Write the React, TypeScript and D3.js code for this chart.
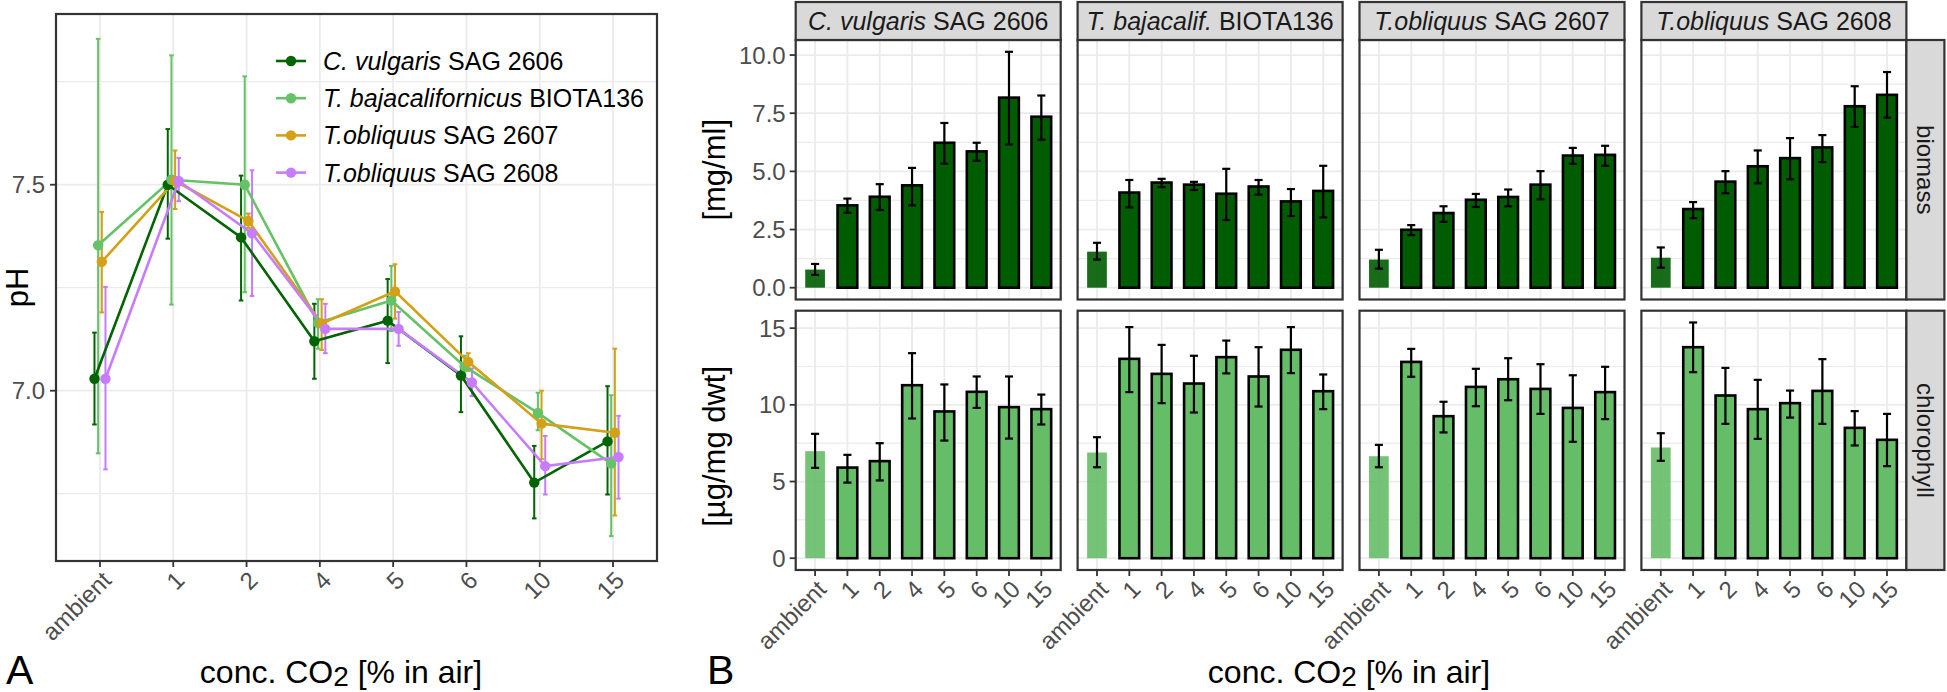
import React from 'react';
import * as d3 from 'd3';

// ---------------- DATA ----------------
const concLabels = ['ambient', '1', '2', '4', '5', '6', '10', '15'];

const strainSpecies = ['C. vulgaris', 'T. bajacalifornicus', 'T.obliquus', 'T.obliquus'];
const strainCodes = ['SAG 2606', 'BIOTA136', 'SAG 2607', 'SAG 2608'];
const stripSpecies = ['C. vulgaris', 'T. bajacalif.', 'T.obliquus', 'T.obliquus'];
const seriesColors = ['#006400', '#66C266', '#D4A017', '#C77CFF'];

// Panel A: pH (mean, lower, upper)
const phCvul = [7.029, 7.5, 7.372, 7.12, 7.17, 7.037, 6.777, 6.877];
const phCvulLo = [6.918, 7.369, 7.219, 7.029, 7.067, 6.948, 6.69, 6.748];
const phCvulHi = [7.141, 7.635, 7.522, 7.211, 7.271, 7.132, 6.866, 7.011];

const phTbaj = [7.353, 7.512, 7.5, 7.165, 7.219, 7.059, 6.946, 6.823];
const phTbajLo = [6.848, 7.209, 7.239, 7.102, 7.145, 7.03, 6.904, 6.647];
const phTbajHi = [7.854, 7.814, 7.763, 7.222, 7.303, 7.085, 6.995, 6.989];

const phT2607 = [7.313, 7.509, 7.412, 7.163, 7.241, 7.07, 6.92, 6.898];
const phT2607Lo = [7.19, 7.441, 7.395, 7.099, 7.175, 7.048, 6.834, 6.697];
const phT2607Hi = [7.434, 7.583, 7.43, 7.222, 7.307, 7.091, 7.0, 7.102];

const phT2608 = [7.029, 7.509, 7.382, 7.15, 7.15, 7.02, 6.817, 6.839];
const phT2608Lo = [6.809, 7.46, 7.23, 7.091, 7.109, 6.987, 6.748, 6.738];
const phT2608Hi = [7.252, 7.565, 7.535, 7.211, 7.191, 7.054, 6.89, 6.939];

// Panel B: biomass [mg/ml]
const bioCvul = [0.78, 3.54, 3.91, 4.4, 6.23, 5.86, 8.17, 7.35];
const bioCvulLo = [0.55, 3.22, 3.34, 3.54, 5.33, 5.46, 6.16, 6.36];
const bioCvulHi = [1.02, 3.83, 4.45, 5.15, 7.08, 6.23, 10.14, 8.26];
const bioTbaj = [1.55, 4.09, 4.52, 4.43, 4.04, 4.35, 3.71, 4.16];
const bioTbajLo = [1.21, 3.45, 4.32, 4.2, 2.91, 4.0, 3.08, 3.02];
const bioTbajHi = [1.93, 4.63, 4.68, 4.55, 5.11, 4.63, 4.24, 5.24];
const bioT2607 = [1.21, 2.49, 3.21, 3.78, 3.9, 4.43, 5.68, 5.71];
const bioT2607Lo = [0.82, 2.26, 2.83, 3.47, 3.5, 3.8, 5.32, 5.24];
const bioT2607Hi = [1.63, 2.69, 3.5, 4.03, 4.22, 5.01, 6.01, 6.1];
const bioT2608 = [1.29, 3.38, 4.56, 5.22, 5.57, 6.03, 7.8, 8.29];
const bioT2608Lo = [0.86, 2.99, 4.06, 4.49, 4.66, 5.4, 6.91, 7.31];
const bioT2608Hi = [1.73, 3.68, 5.01, 5.9, 6.43, 6.56, 8.66, 9.27];

// Panel B: chlorophyll [µg/mg dwt]
const chlCvul = [6.98, 5.91, 6.33, 11.28, 9.57, 10.85, 9.85, 9.72];
const chlCvulLo = [5.89, 4.93, 5.07, 9.11, 7.67, 9.8, 7.8, 8.72];
const chlCvulHi = [8.11, 6.74, 7.5, 13.37, 11.33, 11.85, 11.85, 10.67];
const chlTbaj = [6.89, 13.0, 12.02, 11.39, 13.11, 11.85, 13.59, 10.89];
const chlTbajLo = [5.93, 10.83, 10.11, 9.5, 12.05, 9.89, 12.07, 9.72];
const chlTbajHi = [7.89, 15.07, 13.91, 13.2, 14.19, 13.76, 15.07, 11.98];
const chlT2607 = [6.65, 12.8, 9.26, 11.17, 11.67, 11.04, 9.8, 10.83];
const chlT2607Lo = [5.93, 11.83, 8.2, 9.91, 10.3, 9.41, 7.59, 9.07];
const chlT2607Hi = [7.39, 13.65, 10.2, 12.35, 13.04, 12.65, 11.93, 12.48];
const chlT2608 = [7.22, 13.76, 10.61, 9.72, 10.11, 10.91, 8.5, 7.72];
const chlT2608Lo = [6.35, 12.13, 8.76, 7.78, 9.17, 8.76, 7.35, 6.0];
const chlT2608Hi = [8.15, 15.37, 12.41, 11.63, 10.93, 12.98, 9.59, 9.41];

const phTicks = [7.0, 7.5];
const phMinor = [6.75, 7.25, 7.75];
const bioTicks = [0, 2.5, 5, 7.5, 10];
const bioMinor = [1.25, 3.75, 6.25, 8.75];
const chlTicks = [0, 5, 10, 15];
const chlMinor = [2.5, 7.5, 12.5];
const rowLabels = ['biomass', 'chlorophyll'];

// ---------------- LAYOUT / STYLE ----------------
const FONT = '"Liberation Sans", Arial, Helvetica, sans-serif';
const GRID = '#EBEBEB';
const BORDER = '#333333';
const TICKTXT = '#4D4D4D';
const BAR_DARK = '#005C00';
const BAR_LIGHT = '#66BD68';
const TICK_FS = 24;

const A = { l: 56, r: 657, t: 14, b: 561 };
const B = { l: 795.7, colStep: 281.9, colW: 265, rows: [{ t: 40, b: 299.5 }, { t: 310.7, b: 570 }], stripTop: 2, stripRightW: 38 };

const expand = (lo: number, hi: number) => {
  const d = hi - lo;
  return [lo - d * 0.05, hi + d * 0.05];
};

const phSeries = [
  { m: phCvul, lo: phCvulLo, hi: phCvulHi },
  { m: phTbaj, lo: phTbajLo, hi: phTbajHi },
  { m: phT2607, lo: phT2607Lo, hi: phT2607Hi },
  { m: phT2608, lo: phT2608Lo, hi: phT2608Hi },
];
const bioSeries = [
  { m: bioCvul, lo: bioCvulLo, hi: bioCvulHi },
  { m: bioTbaj, lo: bioTbajLo, hi: bioTbajHi },
  { m: bioT2607, lo: bioT2607Lo, hi: bioT2607Hi },
  { m: bioT2608, lo: bioT2608Lo, hi: bioT2608Hi },
];
const chlSeries = [
  { m: chlCvul, lo: chlCvulLo, hi: chlCvulHi },
  { m: chlTbaj, lo: chlTbajLo, hi: chlTbajHi },
  { m: chlT2607, lo: chlT2607Lo, hi: chlT2607Hi },
  { m: chlT2608, lo: chlT2608Lo, hi: chlT2608Hi },
];

function PanelA() {
  const x = d3.scalePoint<string>().domain(concLabels).range([A.l, A.r]).padding(0.6);
  const step = x.step();
  const allLo = d3.min(phSeries.flatMap((s) => s.lo)) as number;
  const allHi = d3.max(phSeries.flatMap((s) => s.hi)) as number;
  const y = d3.scaleLinear().domain(expand(allLo, allHi)).range([A.b, A.t]);
  const dodge = (i: number) => (i - 1.5) * 0.05 * step;
  const cap = 2.3;

  return (
    <g>
      <rect x={A.l} y={A.t} width={A.r - A.l} height={A.b - A.t} fill="#fff" />
      {phMinor.map((v) => (
        <line key={'mn' + v} x1={A.l} x2={A.r} y1={y(v)} y2={y(v)} stroke={GRID} strokeWidth={1.2} />
      ))}
      {phTicks.map((v) => (
        <line key={'mj' + v} x1={A.l} x2={A.r} y1={y(v)} y2={y(v)} stroke={GRID} strokeWidth={1.8} />
      ))}
      {concLabels.map((c) => (
        <line key={'vx' + c} x1={x(c)} x2={x(c)} y1={A.t} y2={A.b} stroke={GRID} strokeWidth={1.8} />
      ))}
      {phSeries.map((s, i) => (
        <g key={'eb' + i} stroke={seriesColors[i]} strokeWidth={2}>
          {concLabels.map((c, j) => {
            const cx = (x(c) as number) + dodge(i);
            return (
              <g key={j}>
                <line x1={cx} x2={cx} y1={y(s.lo[j])} y2={y(s.hi[j])} />
                <line x1={cx - cap} x2={cx + cap} y1={y(s.lo[j])} y2={y(s.lo[j])} />
                <line x1={cx - cap} x2={cx + cap} y1={y(s.hi[j])} y2={y(s.hi[j])} />
              </g>
            );
          })}
        </g>
      ))}
      {phSeries.map((s, i) => {
        const line = d3
          .line<number>()
          .x((_, j) => (x(concLabels[j]) as number) + dodge(i))
          .y((v) => y(v));
        return <path key={'ln' + i} d={line(s.m) || ''} fill="none" stroke={seriesColors[i]} strokeWidth={2.6} />;
      })}
      {phSeries.map((s, i) => (
        <g key={'pt' + i} fill={seriesColors[i]}>
          {s.m.map((v, j) => (
            <circle key={j} cx={(x(concLabels[j]) as number) + dodge(i)} cy={y(v)} r={5.2} />
          ))}
        </g>
      ))}
      <rect x={A.l} y={A.t} width={A.r - A.l} height={A.b - A.t} fill="none" stroke={BORDER} strokeWidth={2.2} />
      {/* y axis */}
      {phTicks.map((v) => (
        <g key={'yt' + v}>
          <line x1={A.l - 6} x2={A.l} y1={y(v)} y2={y(v)} stroke={BORDER} strokeWidth={1.8} />
          <text x={A.l - 11} y={y(v)} dy="0.36em" textAnchor="end" fontSize={TICK_FS} fill={TICKTXT}>
            {v.toFixed(1)}
          </text>
        </g>
      ))}
      {/* x axis */}
      {concLabels.map((c) => (
        <g key={'xt' + c}>
          <line x1={x(c)} x2={x(c)} y1={A.b} y2={A.b + 6} stroke={BORDER} strokeWidth={1.8} />
          <text
            transform={`translate(${x(c)},${A.b + 8}) rotate(-45)`}
            dy="0.75em"
            textAnchor="end"
            fontSize={TICK_FS}
            fill={TICKTXT}
          >
            {c}
          </text>
        </g>
      ))}
      <text transform={`translate(28,${(A.t + A.b) / 2}) rotate(-90)`} textAnchor="middle" fontSize={31} fill="#000">
        pH
      </text>
      {/* legend */}
      {strainSpecies.map((sp, i) => {
        const ly = 61 + i * 37.2;
        return (
          <g key={'lg' + i}>
            <line x1={276} x2={306} y1={ly} y2={ly} stroke={seriesColors[i]} strokeWidth={2.6} />
            <circle cx={291} cy={ly} r={5.2} fill={seriesColors[i]} />
            <text x={323} y={ly} dy="0.36em" fontSize={25} fill="#000">
              <tspan fontStyle="italic">{sp}</tspan>
              <tspan>{' ' + strainCodes[i]}</tspan>
            </text>
          </g>
        );
      })}
    </g>
  );
}

function PanelB() {
  const colL = (k: number) => B.l + k * B.colStep;
  const rowsData = [bioSeries, chlSeries];
  const rowTicks = [bioTicks, chlTicks];
  const rowMinor = [bioMinor, chlMinor];
  const rowFill = [BAR_DARK, BAR_LIGHT];
  const rowFmt = [(v: number) => v.toFixed(1), (v: number) => String(v)];

  return (
    <g>
      {rowsData.map((series, r) => {
        const row = B.rows[r];
        const hiMax = d3.max(series.flatMap((s) => s.hi)) as number;
        const y = d3.scaleLinear().domain(expand(0, hiMax)).range([row.b, row.t]);
        return (
          <g key={'row' + r}>
            {series.map((s, k) => {
              const l = colL(k);
              const xp = d3.scalePoint<string>().domain(concLabels).range([l, l + B.colW]).padding(0.6);
              const step = xp.step();
              const bw = 0.61 * step;
              const cap = 0.125 * step;
              return (
                <g key={'p' + k}>
                  <rect x={l} y={row.t} width={B.colW} height={row.b - row.t} fill="#fff" />
                  {rowMinor[r].map((v) => (
                    <line key={'mn' + v} x1={l} x2={l + B.colW} y1={y(v)} y2={y(v)} stroke={GRID} strokeWidth={1.2} />
                  ))}
                  {rowTicks[r].map((v) => (
                    <line key={'mj' + v} x1={l} x2={l + B.colW} y1={y(v)} y2={y(v)} stroke={GRID} strokeWidth={1.8} />
                  ))}
                  {concLabels.map((c) => (
                    <line key={'vx' + c} x1={xp(c)} x2={xp(c)} y1={row.t} y2={row.b} stroke={GRID} strokeWidth={1.8} />
                  ))}
                  {s.m.map((v, j) => {
                    const cx = xp(concLabels[j]) as number;
                    const amb = j === 0;
                    return (
                      <rect
                        key={'b' + j}
                        x={cx - bw / 2}
                        y={y(v)}
                        width={bw}
                        height={y(0) - y(v)}
                        fill={rowFill[r]}
                        fillOpacity={amb ? 0.9 : 1}
                        stroke={amb ? 'none' : '#000'}
                        strokeWidth={2.6}
                      />
                    );
                  })}
                  {s.m.map((_, j) => {
                    const cx = xp(concLabels[j]) as number;
                    return (
                      <g key={'e' + j} stroke="#000" strokeWidth={2.2}>
                        <line x1={cx} x2={cx} y1={y(s.lo[j])} y2={y(s.hi[j])} />
                        <line x1={cx - cap} x2={cx + cap} y1={y(s.lo[j])} y2={y(s.lo[j])} />
                        <line x1={cx - cap} x2={cx + cap} y1={y(s.hi[j])} y2={y(s.hi[j])} />
                      </g>
                    );
                  })}
                  <rect x={l} y={row.t} width={B.colW} height={row.b - row.t} fill="none" stroke={BORDER} strokeWidth={2.2} />
                  {r === 1 &&
                    concLabels.map((c) => (
                      <g key={'xt' + c}>
                        <line x1={xp(c)} x2={xp(c)} y1={row.b} y2={row.b + 6} stroke={BORDER} strokeWidth={1.8} />
                        <text
                          transform={`translate(${xp(c)},${row.b + 8}) rotate(-45)`}
                          dy="0.75em"
                          textAnchor="end"
                          fontSize={TICK_FS}
                          fill={TICKTXT}
                        >
                          {c}
                        </text>
                      </g>
                    ))}
                  {k === 0 &&
                    rowTicks[r].map((v) => (
                      <g key={'yt' + v}>
                        <line x1={l - 6} x2={l} y1={y(v)} y2={y(v)} stroke={BORDER} strokeWidth={1.8} />
                        <text x={l - 10} y={y(v)} dy="0.36em" textAnchor="end" fontSize={TICK_FS} fill={TICKTXT}>
                          {rowFmt[r](v)}
                        </text>
                      </g>
                    ))}
                  {r === 0 && (
                    <g>
                      <rect x={l} y={B.stripTop} width={B.colW} height={row.t - B.stripTop} fill="#D9D9D9" stroke={BORDER} strokeWidth={2.2} />
                      <text x={l + B.colW / 2} y={(B.stripTop + row.t) / 2} dy="0.36em" textAnchor="middle" fontSize={25} fill="#1A1A1A">
                        <tspan fontStyle="italic">{stripSpecies[k]}</tspan>
                        <tspan>{' ' + strainCodes[k]}</tspan>
                      </text>
                    </g>
                  )}
                </g>
              );
            })}
            {/* right strip */}
            <rect x={colL(3) + B.colW} y={row.t} width={B.stripRightW} height={row.b - row.t} fill="#D9D9D9" stroke={BORDER} strokeWidth={2.2} />
            <text
              transform={`translate(${colL(3) + B.colW + B.stripRightW / 2},${(row.t + row.b) / 2}) rotate(90)`}
              dy="0.36em"
              textAnchor="middle"
              fontSize={24}
              fill="#1A1A1A"
            >
              {rowLabels[r]}
            </text>
          </g>
        );
      })}
      <text transform={`translate(725,${(B.rows[0].t + B.rows[0].b) / 2}) rotate(-90)`} textAnchor="middle" fontSize={31}>
        [mg/ml]
      </text>
      <text transform={`translate(725,${(B.rows[1].t + B.rows[1].b) / 2 + 6}) rotate(-90)`} textAnchor="middle" fontSize={31}>
        [µg/mg dwt]
      </text>
    </g>
  );
}

export default function App() {
  return (
    <svg width={1947} height={692} style={{ display: 'block', position: 'absolute', left: 0, top: 0 }} fontFamily={FONT}>
      <rect width={1947} height={692} fill="#fff" />
      <PanelA />
      <PanelB />
      <text x={341} y={683} textAnchor="middle" fontSize={32}>
        conc. CO<tspan fontSize={28} dy={3}>2</tspan>
        <tspan dy={-3}> [% in air]</tspan>
      </text>
      <text x={1349} y={683} textAnchor="middle" fontSize={32}>
        conc. CO<tspan fontSize={28} dy={3}>2</tspan>
        <tspan dy={-3}> [% in air]</tspan>
      </text>
      <text x={6} y={684} fontSize={41}>
        A
      </text>
      <text x={707} y={684} fontSize={41}>
        B
      </text>
    </svg>
  );
}
